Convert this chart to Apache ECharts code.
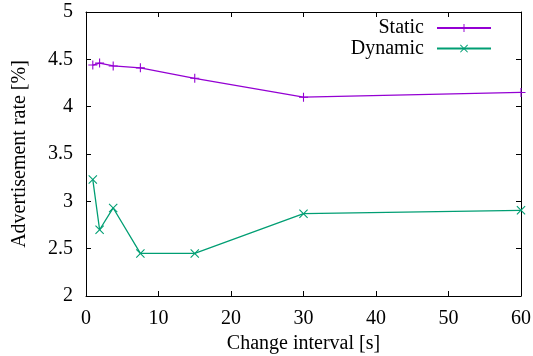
<!DOCTYPE html>
<html>
<head>
<meta charset="utf-8">
<script src="https://cdn.jsdelivr.net/npm/echarts@6/dist/echarts.min.js"></script>
<style>
html,body{margin:0;padding:0;background:#fff;}
#chart{width:533px;height:356px;}
</style>
</head>
<body>
<div id="chart"></div>
<script>
var intervals = [0.9375, 1.875, 3.75, 7.5, 15, 30, 60];
var staticRate = [4.44, 4.46, 4.43, 4.41, 4.30, 4.10, 4.15];
var dynamicRate = [3.23, 2.70, 2.93, 2.45, 2.45, 2.87, 2.905];
var seriesNames = ['Static', 'Dynamic'];
var xTitle = 'Change interval [s]';
var yTitle = 'Advertisement rate [%]';

var FONT = '"Liberation Serif", "DejaVu Serif", serif';
var PLUS = 'path://M0,4.4L10,4.4L10,5.6L0,5.6Z M4.4,0L5.6,0L5.6,10L4.4,10Z';
var CROSS = 'path://M0.85,0L5,4.15L9.15,0L10,0.85L5.85,5L10,9.15L9.15,10L5,5.85L0.85,10L0,9.15L4.15,5L0,0.85Z';

function pairs(xs, ys){ return xs.map(function(x,i){ return [x, ys[i]]; }); }

var chart = echarts.init(document.getElementById('chart'), null, {renderer:'canvas'});
var axisCommon = {
  axisLine:{show:true, onZero:false, lineStyle:{color:'#000', width:1}},
  axisTick:{show:true, inside:true, length:5, lineStyle:{color:'#000', width:1}},
  splitLine:{show:false}
};
chart.setOption({
  animation:false,
  backgroundColor:'#fff',
  grid:{left:86, right:12, top:12, bottom:60, containLabel:false, outerBoundsMode:'none'},
  legend:{
    orient:'vertical', right:36, top:13, align:'right',
    itemWidth:54, itemHeight:10, itemGap:0.6,
    textStyle:{fontFamily:FONT, fontSize:20, color:'#000', lineHeight:20, padding:[0,8,0,0]},
    data:seriesNames
  },
  xAxis:[
    Object.assign({type:'value', min:0, max:60, interval:10, position:'bottom',
      name:xTitle, nameLocation:'middle', nameGap:30,
      nameTextStyle:{fontFamily:FONT, fontSize:20, color:'#000'},
      axisLabel:{fontFamily:FONT, fontSize:20, color:'#000', margin:13}}, axisCommon),
    Object.assign({type:'value', min:0, max:60, interval:10, position:'top',
      axisLabel:{show:false}}, axisCommon)
  ],
  yAxis:[
    Object.assign({type:'value', min:2, max:5, interval:0.5, position:'left',
      name:yTitle, nameLocation:'middle', nameGap:56, nameRotate:90,
      nameTextStyle:{fontFamily:FONT, fontSize:20, color:'#000'},
      axisLabel:{fontFamily:FONT, fontSize:20, color:'#000', margin:13}}, axisCommon),
    Object.assign({type:'value', min:2, max:5, interval:0.5, position:'right',
      axisLabel:{show:false}}, axisCommon)
  ],
  series:[
    {name:seriesNames[0], type:'line', data:pairs(intervals, staticRate),
      symbol:PLUS, symbolSize:9, showAllSymbol:true,
      color:'#9400d3', itemStyle:{color:'#9400d3'}, lineStyle:{color:'#9400d3', width:1.3}},
    {name:seriesNames[1], type:'line', data:pairs(intervals, dynamicRate),
      symbol:CROSS, symbolSize:9, showAllSymbol:true,
      color:'#009e73', itemStyle:{color:'#009e73'}, lineStyle:{color:'#009e73', width:1.3}}
  ]
});
</script>
</body>
</html>
